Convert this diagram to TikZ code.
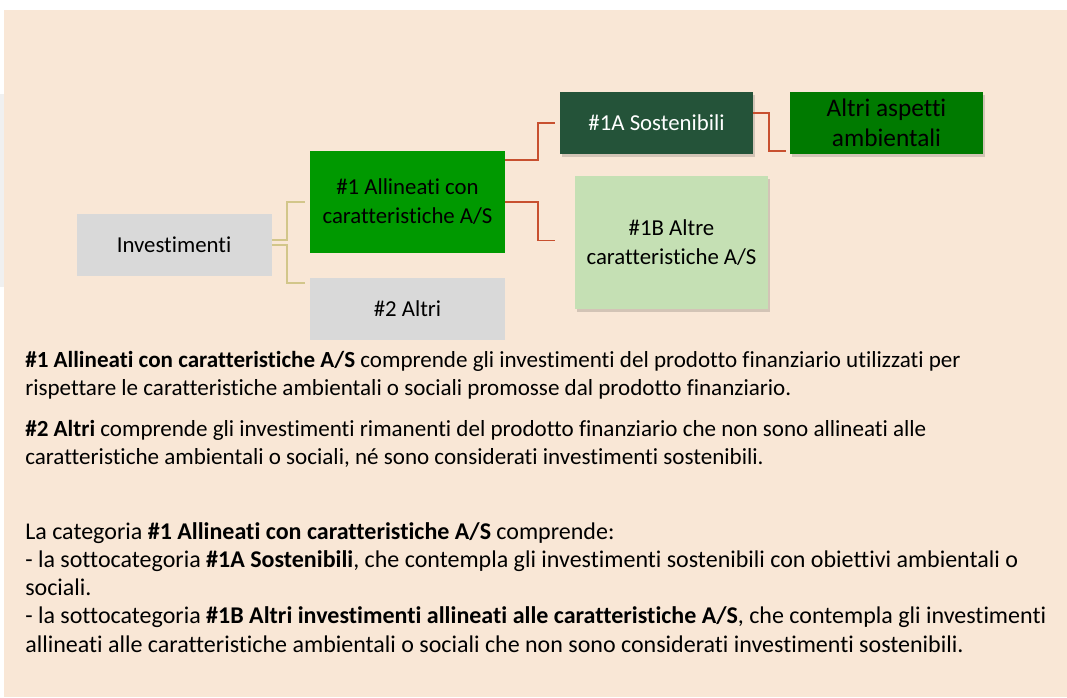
\documentclass[tikz,border=0pt]{standalone}
\usepackage{fontspec}
\setmainfont[Ligatures=NoCommon]{Carlito}
\usepackage{xcolor}
\usepackage{tikz}
\usetikzlibrary{positioning,shadows}

\definecolor{peach}{HTML}{F9E7D6}
\definecolor{boxgray}{HTML}{D9D9D9}
\definecolor{brightgreen}{HTML}{009900}
\definecolor{darkgreen}{HTML}{245339}
\definecolor{midgreen}{HTML}{007A00}
\definecolor{palegreen}{HTML}{C5E0B4}
\definecolor{linktan}{HTML}{D2C68A}
\definecolor{linkred}{HTML}{C8502F}

\tikzset{
    box/.style={rectangle, minimum width=146.25pt, minimum height=46.5pt, inner sep=2pt, align=center, font=\fontsize{17.1}{21.75}\selectfont},
    boxshadow/.style={drop shadow={shadow xshift=1.2pt, shadow yshift=-2pt, opacity=0.15, fill=black}},
    tanlink/.style={draw=linktan, line width=1.2pt},
    redlink/.style={draw=linkred, line width=1.2pt},
    para/.style={anchor=north west, inner sep=0pt, align=left, font=\fontsize{17.3}{21.2}\selectfont},
}

\begin{document}
\begin{tikzpicture}[x=0.75pt, y=-0.75pt]
    % Background
    \useasboundingbox (0,0) rectangle (1067,697);
    \fill[white] (0,0) rectangle (1067,697);
    \fill[peach] (4,10) rectangle (1067,697);
    \fill[black!6] (0,94) rectangle (4,287);

    % Boxes
    \node[box, fill=boxgray] (inv) at (174,245) {Investimenti};
    \node[box, fill=brightgreen, minimum height=76.5pt] (all) at (407.5,202) {\#1 Allineati con\\caratteristiche A/S};
    \node[box, fill=boxgray] (oth) at (407.5,309) {\#2 Altri};
    \node[box, boxshadow, fill=darkgreen, text=white, minimum width=144.75pt] (sos) at (656.5,123) {\#1A Sostenibili};
    \node[box, boxshadow, fill=midgreen, minimum width=144.75pt, font=\fontsize{19}{22.5}\selectfont] (amb) at (886.5,123) {Altri aspetti\\ambientali};
    \node[box, boxshadow, fill=palegreen, minimum width=144.75pt, minimum height=99.75pt] (alc) at (671.5,242.5) {\#1B Altre\\caratteristiche A/S};

    % Links
    \draw[tanlink] ([shift={(0,-5)}]inv.east) -- ++(15,0) |- ([shift={(-5,0)}]all.west);
    \draw[tanlink] (inv.east) -- ++(15,0) |- ([shift={(-5,5)}]oth.north west);
    \draw[redlink] ([shift={(0,9)}]all.north east) -- ++(33,0) |- ([shift={(-5,0)}]sos.west);
    \draw[redlink] (all.east) -- ++(33,0) |- ([shift={(-20,-2)}]alc.west);
    \draw[redlink] ([shift={(0,-10)}]sos.east) -- ++(16,0) |- ([shift={(-4,-3)}]amb.south west);

    % Notes
    \node[para] (p1) at (25,351) {\textbf{\#1 Allineati con caratteristiche A/S} comprende gli investimenti del prodotto finanziario utilizzati per\\
        rispettare le caratteristiche ambientali o sociali promosse dal prodotto finanziario.};
    \node[para] (p2) at (25,420) {\textbf{\#2 Altri} comprende gli investimenti rimanenti del prodotto finanziario che non sono allineati alle\\
        caratteristiche ambientali o sociali, né sono considerati investimenti sostenibili.};
    \node[para, font=\fontsize{18}{21.2}\selectfont] (p3) at (25,522) {La categoria \textbf{\#1 Allineati con caratteristiche A/S} comprende:\\
        - la sottocategoria \textbf{\#1A Sostenibili}, che contempla gli investimenti sostenibili con obiettivi ambientali o\\
        sociali.\\
        - la sottocategoria \textbf{\#1B Altri investimenti allineati alle caratteristiche A/S}, che contempla gli investimenti\\
        allineati alle caratteristiche ambientali o sociali che non sono considerati investimenti sostenibili.};
\end{tikzpicture}
\end{document}
